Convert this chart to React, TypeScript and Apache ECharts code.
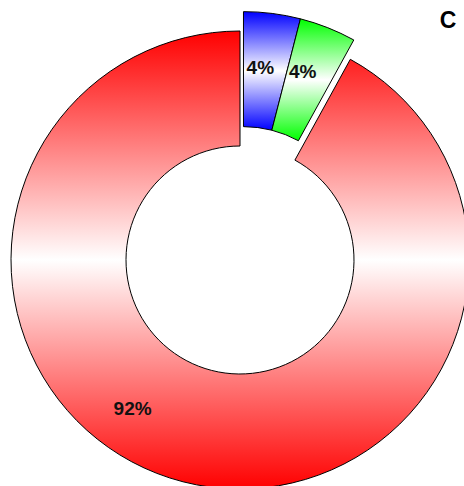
import React, { useEffect, useRef } from "react";
import * as echarts from "echarts";

const categories = ["Blue", "Green", "Red"];
const values = [4, 4, 92];
const topColors = ["#0000ff", "#00ff00", "#ff0000"];
const explodedFlags = [true, true, false];
const labelOffsets: [number, number][] = [[-5, 0], [-5, -7], [-64, -21]];
const panelLetter = "C";

export default function App() {
  const ref = useRef<HTMLDivElement>(null);
  useEffect(() => {
    if (!ref.current) return;
    const chart = echarts.init(ref.current, undefined, { renderer: "svg" });
    const cx = 240;
    const cy = 260;
    const explode = 20;
    // exploded group's bisector angle (clockwise from top)
    const groupShare = values.filter((_, i) => explodedFlags[i]).reduce((a, b) => a + b, 0);
    const total = values.reduce((a, b) => a + b, 0);
    const bis = ((groupShare / total) * Math.PI * 2) / 2;
    const ecx = cx + explode * Math.sin(bis) - 1.5;
    const ecy = cy - explode * Math.cos(bis);

    const makeData = (showExploded: boolean) =>
      categories.map((name, i) => {
        const visible = explodedFlags[i] === showExploded;
        return {
          name,
          value: values[i],
          itemStyle: visible
            ? {
                color: new echarts.graphic.LinearGradient(0, 0, 0, 1, [
                  { offset: 0, color: topColors[i] },
                  { offset: 0.5, color: "#ffffff" },
                  { offset: 1, color: topColors[i] },
                ]),
              }
            : { color: "rgba(0,0,0,0)", borderWidth: 0 },
          label: visible ? { offset: labelOffsets[i] } : { show: false },
        };
      });

    const common = {
      type: "pie",
      radius: [114, 229],
      startAngle: 90,
      clockwise: true,
      silent: true,
      emphasis: { disabled: true },
      itemStyle: { borderColor: "#000", borderWidth: 1 },
      label: {
        show: true,
        position: "inside",
        formatter: "{c}%",
        color: "#111",
        fontSize: 19,
        fontWeight: "bold",
        fontFamily: "Arial, 'Liberation Sans', sans-serif",
        textBorderWidth: 0,
      },
      labelLine: { show: false },
    };

    chart.setOption({
      animation: false,
      graphic: [
        {
          type: "text",
          x: 448,
          y: 20,
          style: {
            text: panelLetter,
            font: "bold 23px Arial, 'Liberation Sans', sans-serif",
            fill: "#000",
            textAlign: "center",
            textVerticalAlign: "middle",
          },
        },
      ],
      series: [
        { ...common, name: "main", center: [cx, cy], data: makeData(false) },
        { ...common, name: "exploded", center: [ecx, ecy], data: makeData(true) },
      ],
    });
    return () => chart.dispose();
  }, []);
  return (
    <div
      ref={ref}
      style={{ position: "fixed", left: 0, top: 0, width: 464, height: 486, background: "#fff" }}
    />
  );
}
